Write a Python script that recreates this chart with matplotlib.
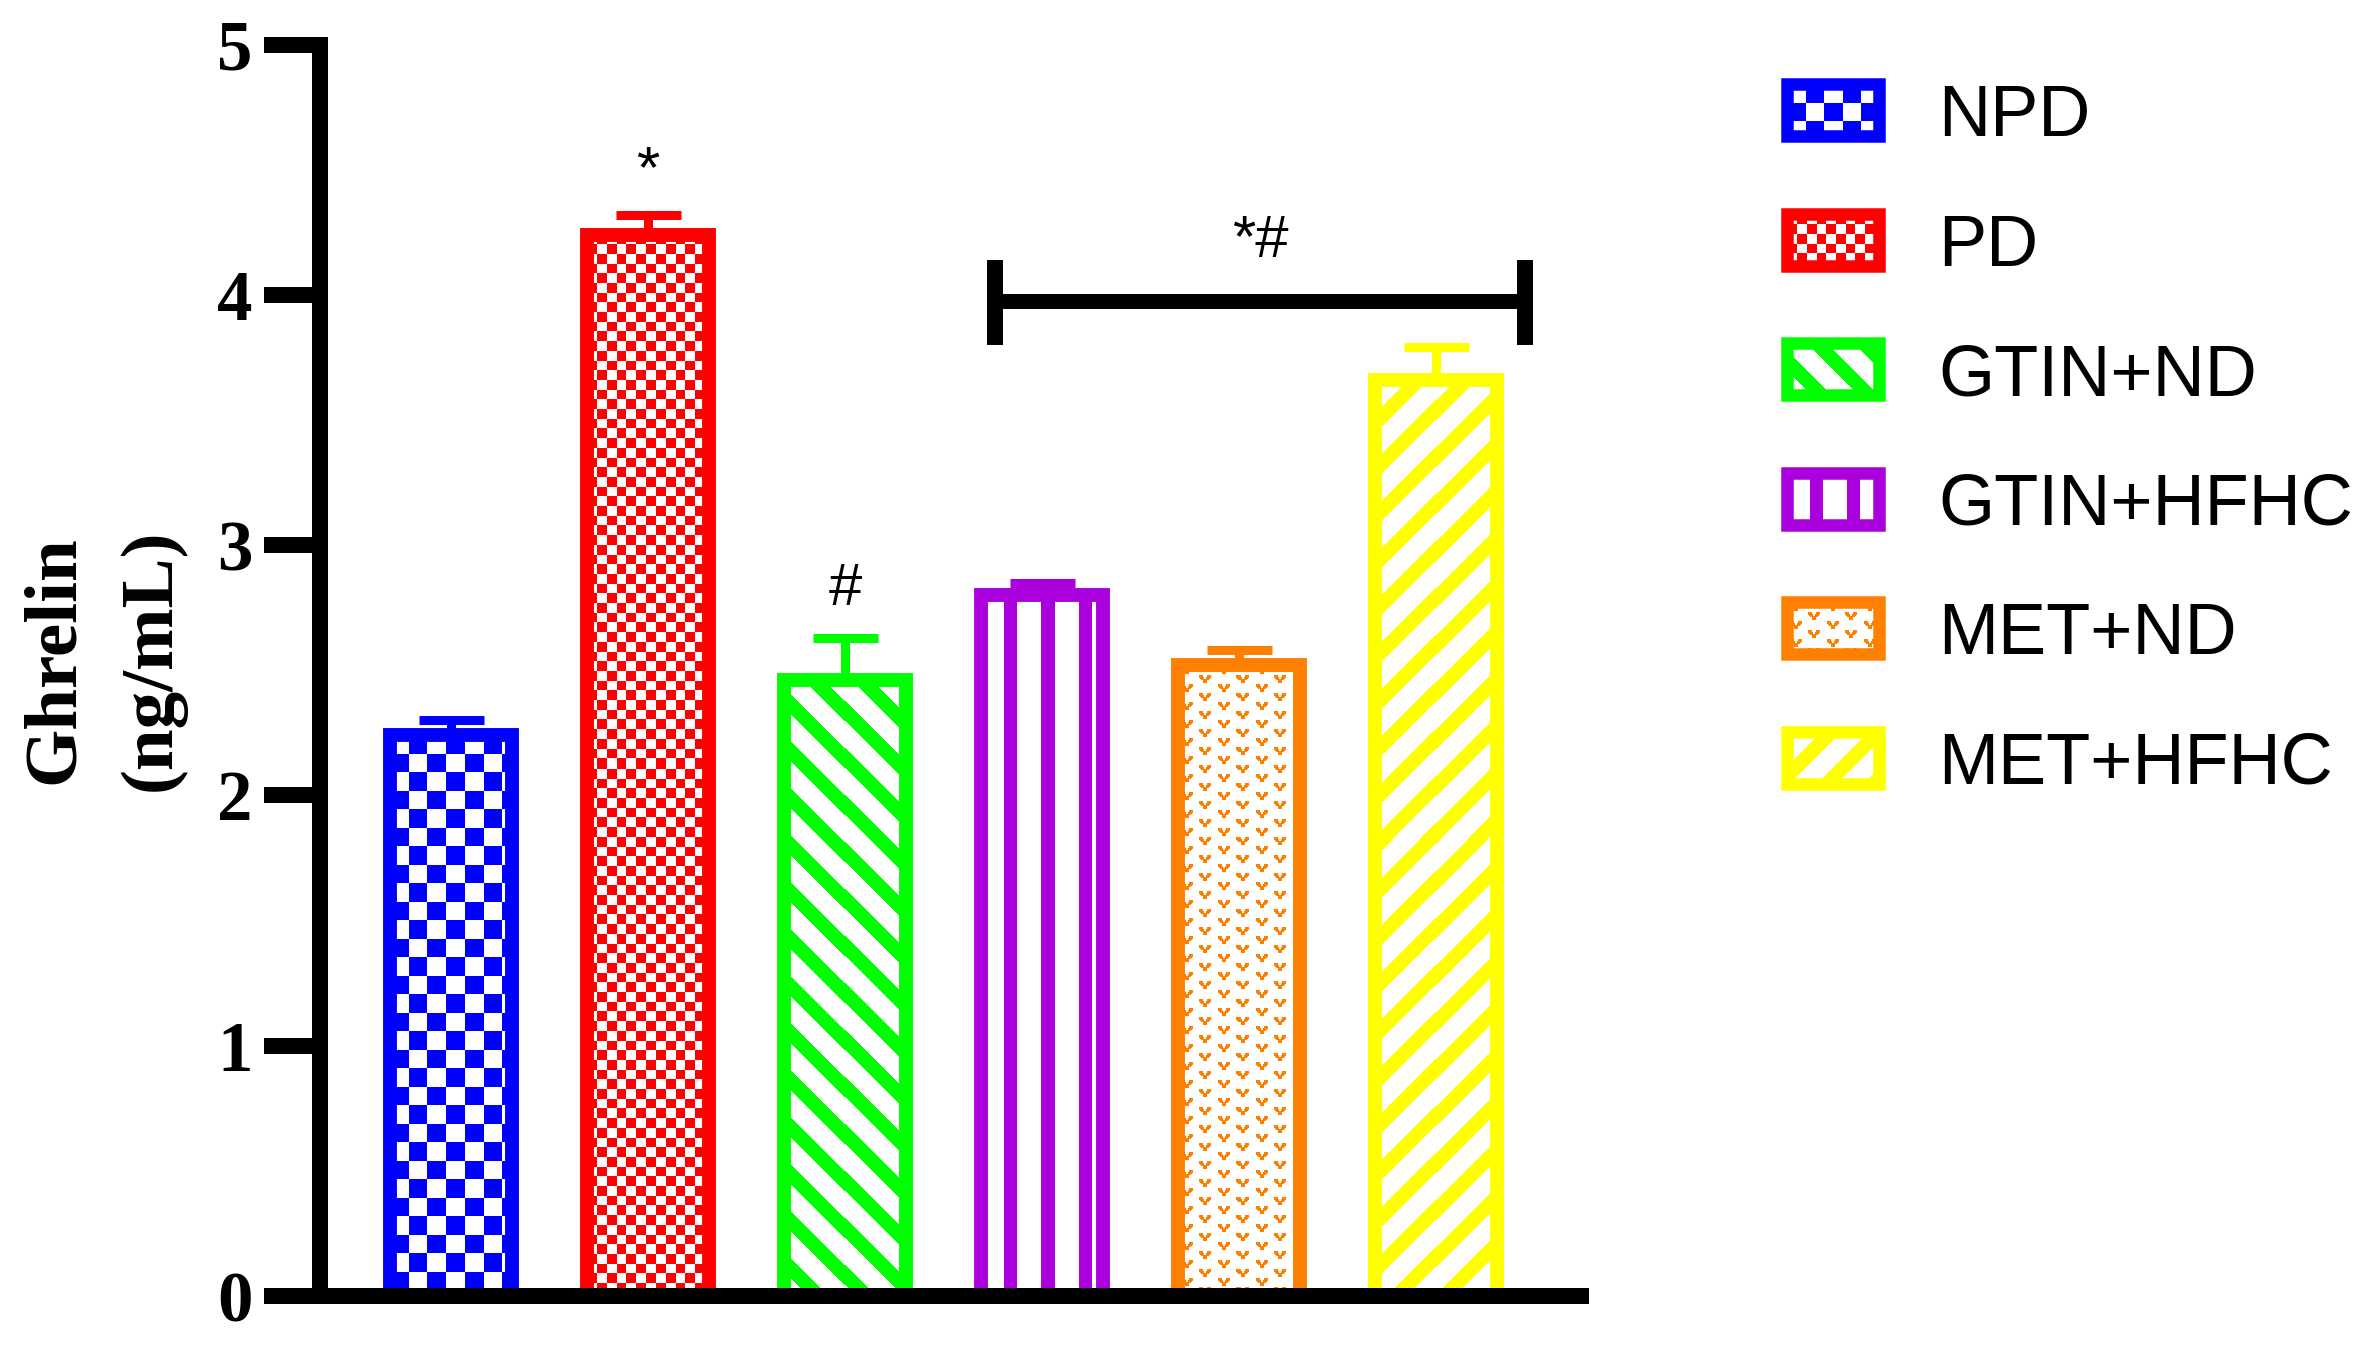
import numpy as np
import matplotlib.pyplot as plt
from matplotlib.colors import to_rgb
from matplotlib.patches import Rectangle

groups = ['NPD', 'PD', 'GTIN+ND', 'GTIN+HFHC', 'MET+ND', 'MET+HFHC']
ghrelin = [2.24, 4.24, 2.46, 2.80, 2.52, 3.66]
sem = [0.06, 0.08, 0.17, 0.05, 0.06, 0.13]
colors = ['#0000FF', '#FF0000', '#00FF00', '#AA00DD', '#FF8000', '#FFFF00']
fills = ['check_big', 'check_small', 'back', 'vert', 'vmarks', 'fwd']
yticks = [0, 1, 2, 3, 4, 5]

# significance marks: label, x (group index), baseline y
sig_labels = ['*', '#', '*#']
sig_x = [1, 2, 4.11]
sig_y = [4.43, 2.76, 4.15]
# bracket over GTIN+HFHC .. MET+HFHC
br_x = [2.76, 5.45]
br_y = 3.976
br_ends = [3.80, 4.14]

V_MARK = ["1111....1111",
          "1111....1111",
          "11111..11111",
          ".1111..1111.",
          "..11111111..",
          "....1111....",
          "....1111....",
          "....1111....", ]


def pattern(kind, w, h, rgb):
    yy, xx = np.mgrid[0:h, 0:w]
    if kind == 'check_big':
        on = (np.floor(xx / 18.5) + np.floor(yy / 18.5)) % 2 == 1
    elif kind == 'check_small':
        on = (np.floor(xx / 9.7) + np.floor(yy / 9.7)) % 2 == 1
    elif kind == 'back':
        on = (xx - yy - 20) % 47 < 20
    elif kind == 'fwd':
        on = (xx + yy - 34) % 47 < 20
    elif kind == 'vert':
        on = (xx - 22.5) % 37 < 13
    else:
        tile = np.zeros((18, 37), bool)
        stamp = np.array([[c == '1' for c in row] for row in V_MARK])
        tile[1:9, 3:15] = stamp
        tile[10:18, 21:33] = stamp
        on = np.tile(tile, (h // 18 + 1, w // 37 + 1))[:h, :w]
    img = np.ones((h, w, 3))
    img[on] = rgb
    return img


W, H = 2377, 1347
fig = plt.figure(figsize=(W / 100, H / 100), dpi=100)
ax = fig.add_axes([320 / W, 51 / H, 1261 / W, 1251.5 / H])
ax.set_xlim(-0.665, 5.736)
ax.set_ylim(0, 5)

x = np.arange(len(groups))
bw = 0.615
base = ax.bar(x, ghrelin, width=bw, color='white', zorder=1)
for b, kind, c in zip(base, fills, colors):
    x0, x1 = b.get_x(), b.get_x() + b.get_width()
    (p0, q0), (p1, q1) = ax.transData.transform([[x0, 0], [x1, b.get_height()]])
    img = pattern(kind, int(round(p1 - p0)), int(round(q1 - q0)), to_rgb(c))
    im = ax.imshow(img, extent=(x0, x1, 0, b.get_height()), aspect='auto',
                   interpolation='nearest', origin='upper', zorder=1.5)
    im.set_clip_path(b)
ax.bar(x, ghrelin, width=bw, facecolor='none', edgecolor=colors, linewidth=10, zorder=2)

for xi, v, e, c in zip(x, ghrelin, sem, colors):
    ax.errorbar(xi, v, yerr=[[0], [e]], fmt='none', ecolor=c, elinewidth=6.5,
                capsize=23.4, capthick=6.5, zorder=3)

# bracket
ax.plot(br_x, [br_y, br_y], color='black', lw=10.8, solid_capstyle='butt', zorder=4)
for bx in br_x:
    ax.plot([bx, bx], br_ends, color='black', lw=11.5, solid_capstyle='butt', zorder=4)

for lab, sx, sy in zip(sig_labels, sig_x, sig_y):
    ax.text(sx, sy, lab, ha='center', va='baseline', fontsize=43,
            family=['Liberation Sans Narrow', 'Liberation Sans'])

ax.set_xlim(-0.665, 5.736)
ax.set_ylim(0, 5)
for s in ['top', 'right']:
    ax.spines[s].set_visible(False)
for s in ['left', 'bottom']:
    ax.spines[s].set_linewidth(11.5)
    ax.spines[s].set_zorder(5)
ax.set_xticks([])
ax.set_yticks(yticks)
ax.set_yticklabels([str(t) for t in yticks], fontsize=51, family='Liberation Serif', weight='bold')
ax.tick_params(axis='y', length=40, width=11.5, pad=8.6)

fig.text(55 / W, 1 - 660 / H, 'Ghrelin', rotation=90, ha='center', va='center',
         family='Liberation Serif', weight='bold', fontsize=54)
fig.text(152 / W, 1 - 660 / H, '(ng/mL)', rotation=90, ha='center', va='center',
         family='Liberation Serif', weight='bold', fontsize=54)

# legend drawn by hand so the pattern fills show
lax = fig.add_axes([0, 0, 1, 1])
lax.set_xlim(0, W)
lax.set_ylim(H, 0)
lax.axis('off')
for i, (g, kind, c) in enumerate(zip(groups, fills, colors)):
    yc = 110 + 129.6 * i
    rx0, ry0, rw, rh = 1787, yc - 26, 92, 52
    r = Rectangle((rx0, ry0), rw, rh, facecolor='white', edgecolor='none', zorder=1)
    lax.add_patch(r)
    im = lax.imshow(pattern(kind, rw, rh, to_rgb(c)), extent=(rx0, rx0 + rw, ry0 + rh, ry0),
                    aspect='auto', interpolation='nearest', origin='upper', zorder=1.5)
    im.set_clip_path(r)
    lax.add_patch(Rectangle((rx0, ry0), rw, rh, facecolor='none', edgecolor=c,
                            linewidth=9, zorder=2))
    lax.text(1938, yc + 26, g, ha='left', va='baseline', fontsize=52, family='Liberation Sans')
lax.set_xlim(0, W)
lax.set_ylim(H, 0)

plt.savefig('out.png', dpi=100)
